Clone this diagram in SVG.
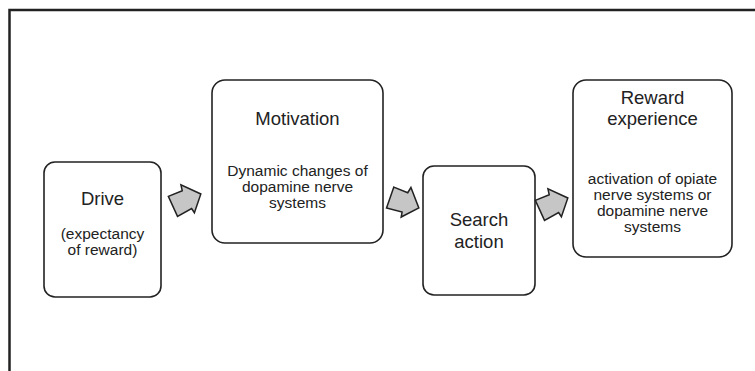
<svg xmlns="http://www.w3.org/2000/svg" width="755" height="371" viewBox="0 0 755 371">
<style>
.box{fill:#fff;stroke:#222;stroke-width:1.6}
.t{font-family:"Liberation Sans",Arial,sans-serif;fill:#222;text-anchor:middle}
.h{font-size:18.5px}
.s{font-size:15.5px}
.arr{fill:#c6c6c6;stroke:#222;stroke-width:1.5;stroke-linejoin:miter}
</style>
<defs>
<polygon id="arrow" points="-15,-10 0,-10 1,-16 16,0 3,15 2,10 -14,12"/>
</defs>
<rect width="755" height="371" fill="#fff"/>
<path d="M9.5,371 V10 H755" fill="none" stroke="#222" stroke-width="2.5"/>
<g id="drive">
<rect class="box" x="44" y="162" width="117" height="135" rx="11"/>
<text class="t h" x="102.5" y="205">Drive</text>
<text class="t s" x="102.5" y="239">(expectancy</text>
<text class="t s" x="102.5" y="255">of reward)</text>
</g>
<g id="motivation">
<rect class="box" x="212" y="80" width="171" height="163" rx="13"/>
<text class="t h" x="297.5" y="125">Motivation</text>
<text class="t s" x="297.5" y="176">Dynamic changes of</text>
<text class="t s" x="297.5" y="192">dopamine nerve</text>
<text class="t s" x="297.5" y="208">systems</text>
</g>
<g id="search">
<rect class="box" x="423" y="166" width="112" height="129" rx="11"/>
<text class="t h" x="479" y="226">Search</text>
<text class="t h" x="479" y="248">action</text>
</g>
<g id="reward">
<rect class="box" x="573" y="80" width="159" height="177" rx="13"/>
<text class="t h" x="652.5" y="104">Reward</text>
<text class="t h" x="652.5" y="125">experience</text>
<text class="t s" x="652.5" y="184">activation of opiate</text>
<text class="t s" x="652.5" y="200">nerve systems or</text>
<text class="t s" x="652.5" y="216">dopamine nerve</text>
<text class="t s" x="652.5" y="232">systems</text>
</g>
<g id="connectors">
<use href="#arrow" class="arr" transform="translate(186,200) rotate(-22)"/>
<use href="#arrow" class="arr" transform="translate(404,202) rotate(22)"/>
<use href="#arrow" class="arr" transform="translate(553,204) rotate(-22)"/>
</g>
</svg>
